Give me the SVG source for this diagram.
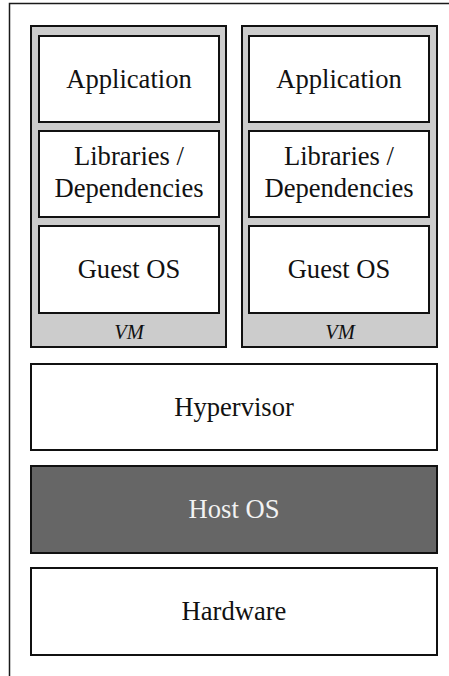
<svg xmlns="http://www.w3.org/2000/svg" width="449" height="676" viewBox="0 0 449 676">
  <style>
    .frame { fill: none; stroke: #1a1a1a; stroke-width: 1.5; }
    .vm { fill: #cccccc; stroke: #111; stroke-width: 2; }
    .box { fill: #ffffff; stroke: #111; stroke-width: 2; }
    .dark { fill: #666666; stroke: #111; stroke-width: 2; }
    .lbl { font-family: "Liberation Serif", serif; font-size: 26.6px; fill: #111; text-anchor: middle; }
    .light { fill: #f2f2f2; }
    .vmlbl { font-family: "Liberation Serif", serif; font-size: 20.5px; font-style: italic; fill: #111; text-anchor: middle; }
  </style>
  <rect width="449" height="676" fill="#ffffff"/>

  <!-- outer frame (continues past the right and bottom edges) -->
  <path class="frame" d="M9.5,676 V3.5 H449"/>

  <!-- virtual machine 1 -->
  <g id="vm1">
    <rect class="vm" x="31" y="26" width="195" height="321"/>
    <text class="vmlbl" x="129" y="339">VM</text>
  </g>
  <g id="vm1-app">
    <rect class="box" x="39" y="36" width="180" height="86"/>
    <text class="lbl" x="129" y="88">Application</text>
  </g>
  <g id="vm1-libs">
    <rect class="box" x="39" y="131" width="180" height="86"/>
    <text class="lbl" x="129" y="165">Libraries /</text>
    <text class="lbl" x="129" y="197">Dependencies</text>
  </g>
  <g id="vm1-guest">
    <rect class="box" x="39" y="226" width="180" height="87"/>
    <text class="lbl" x="129" y="278">Guest OS</text>
  </g>

  <!-- virtual machine 2 -->
  <g id="vm2">
    <rect class="vm" x="242" y="26" width="195" height="321"/>
    <text class="vmlbl" x="340" y="339">VM</text>
  </g>
  <g id="vm2-app">
    <rect class="box" x="249" y="36" width="180" height="86"/>
    <text class="lbl" x="339" y="88">Application</text>
  </g>
  <g id="vm2-libs">
    <rect class="box" x="249" y="131" width="180" height="86"/>
    <text class="lbl" x="339" y="165">Libraries /</text>
    <text class="lbl" x="339" y="197">Dependencies</text>
  </g>
  <g id="vm2-guest">
    <rect class="box" x="249" y="226" width="180" height="87"/>
    <text class="lbl" x="339" y="278">Guest OS</text>
  </g>

  <!-- shared layers -->
  <g id="hypervisor">
    <rect class="box" x="31" y="364" width="406" height="86"/>
    <text class="lbl" x="234" y="416">Hypervisor</text>
  </g>
  <g id="host-os">
    <rect class="dark" x="31" y="466" width="406" height="87"/>
    <text class="lbl light" x="234" y="518">Host OS</text>
  </g>
  <g id="hardware">
    <rect class="box" x="31" y="568" width="406" height="87"/>
    <text class="lbl" x="234" y="620">Hardware</text>
  </g>

  <g id="connectors"/>
</svg>
